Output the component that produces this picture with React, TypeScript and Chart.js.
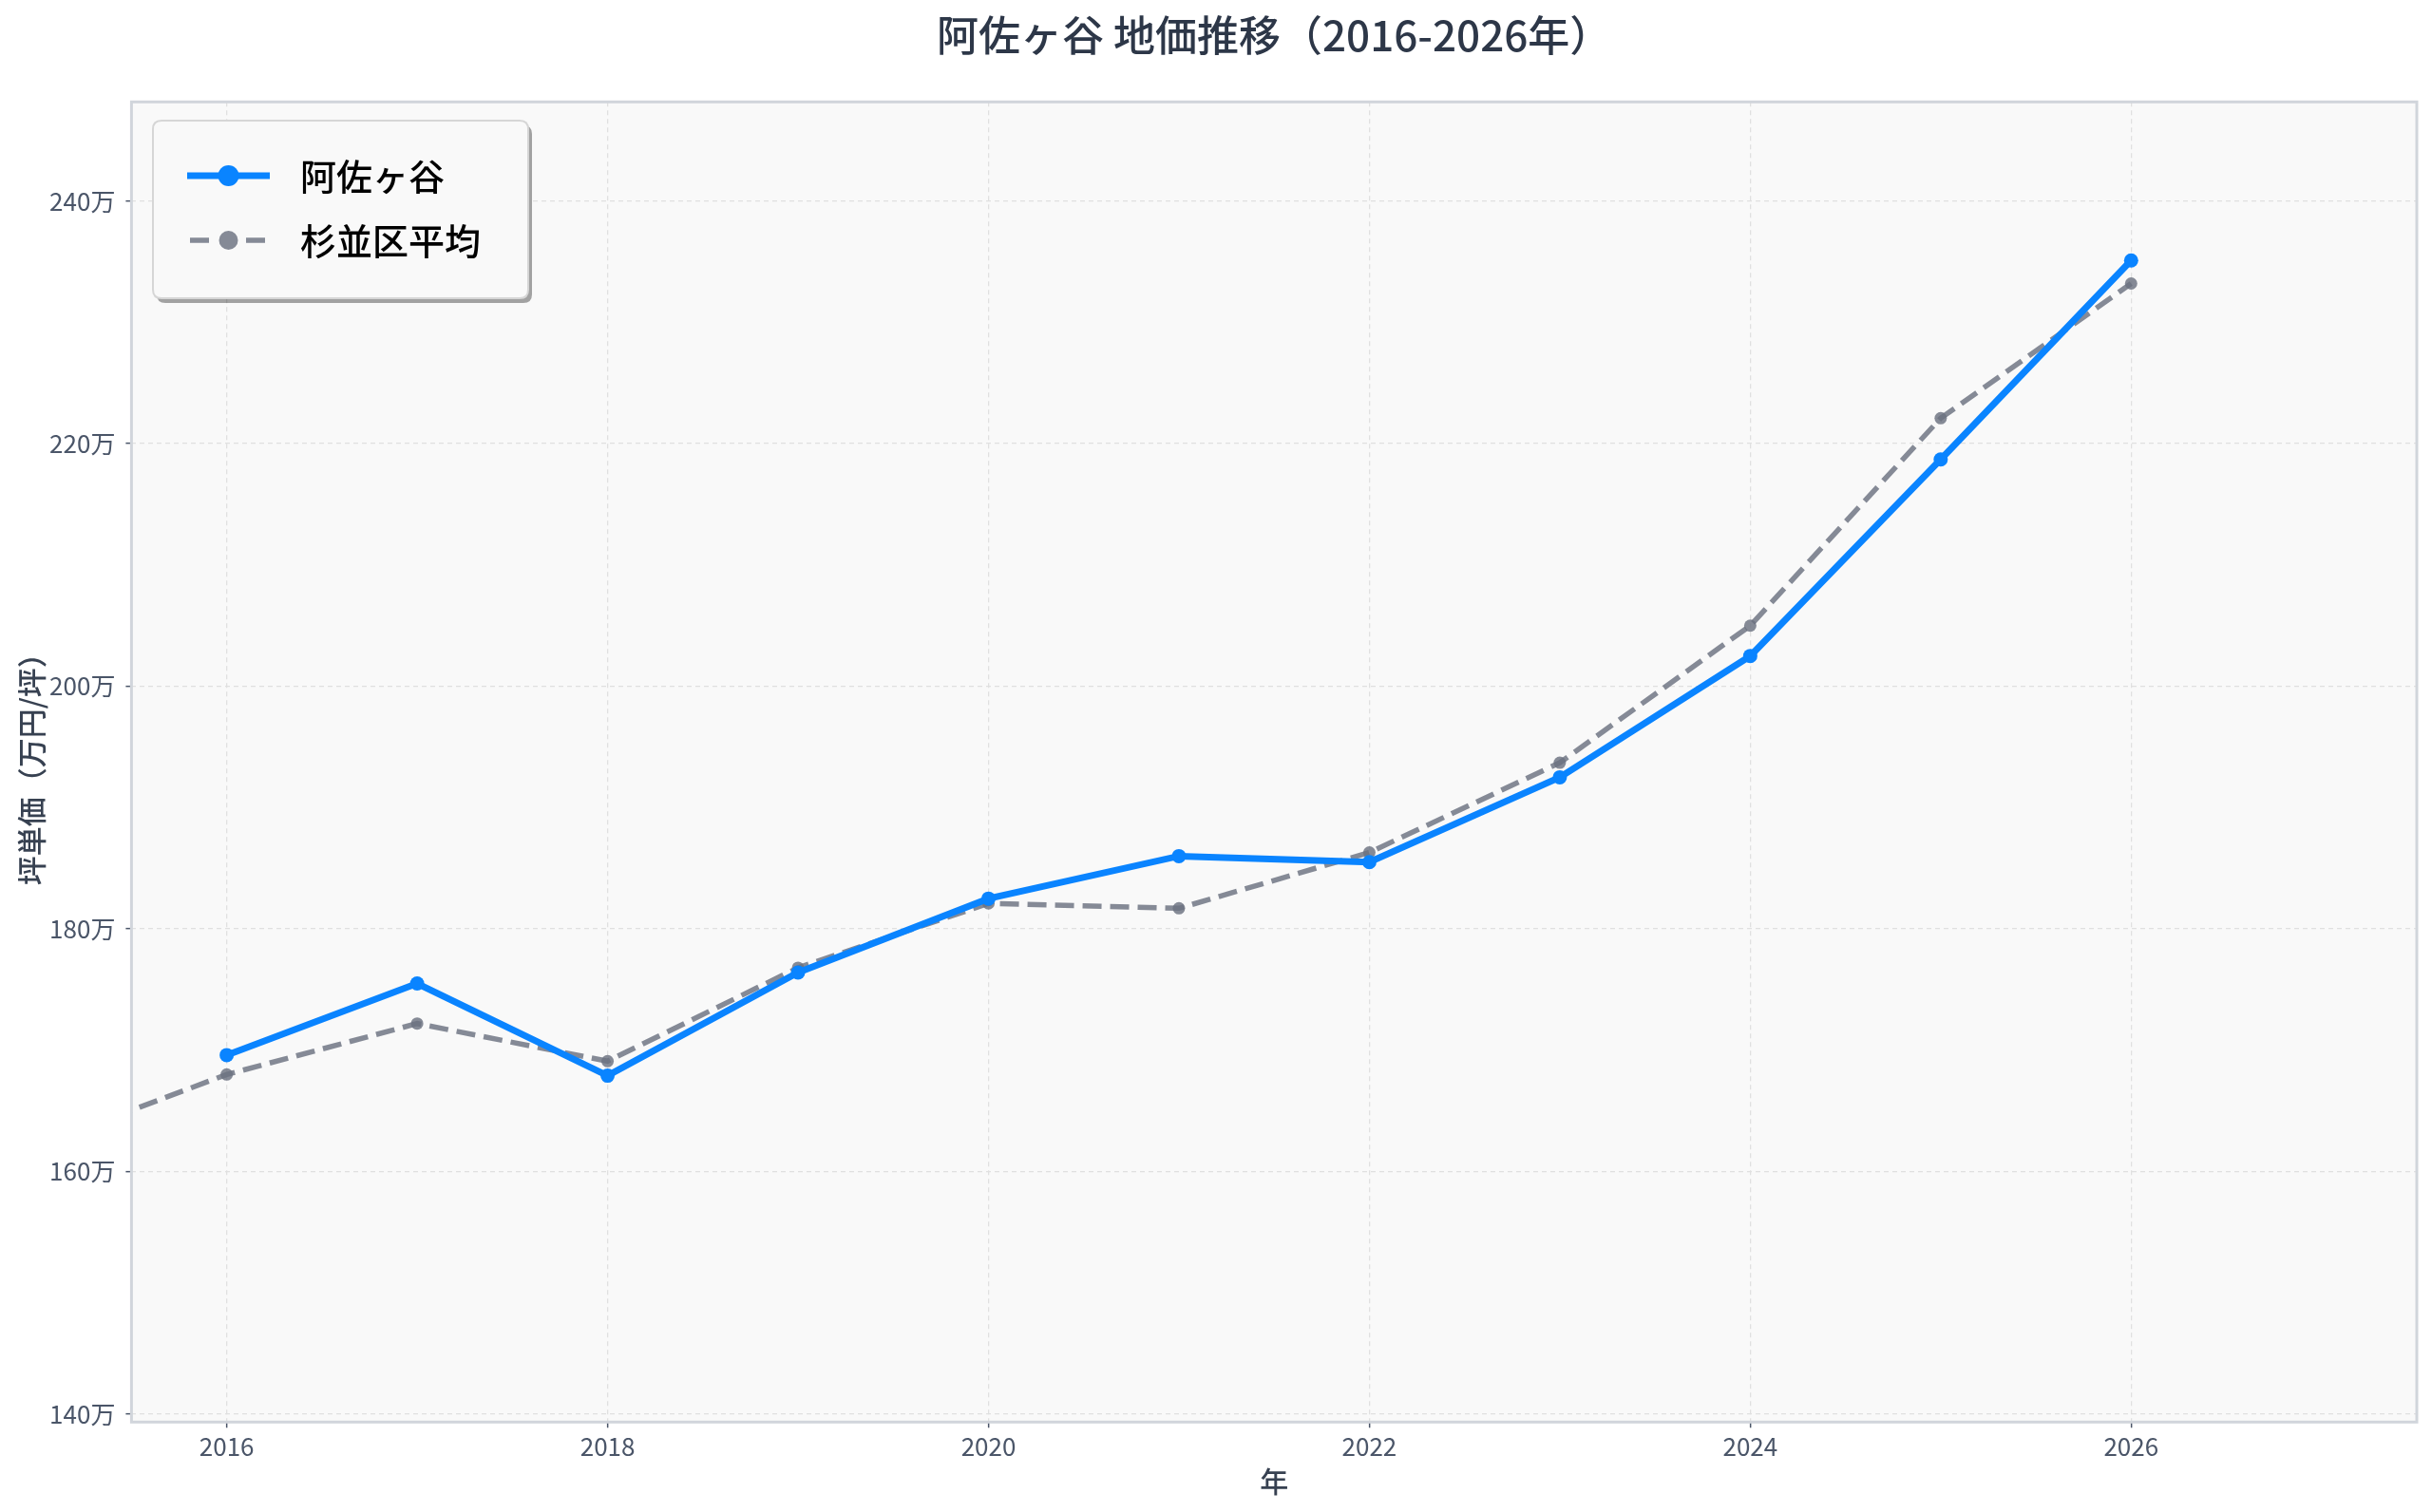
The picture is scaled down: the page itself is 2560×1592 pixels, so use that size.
import React, { useEffect, useRef } from "react";
import { Chart, registerables } from "chart.js";

Chart.register(...registerables);

// ---- data ----
const years = [2015, 2016, 2017, 2018, 2019, 2020, 2021, 2022, 2023, 2024, 2025, 2026];
const asagayaValues = [null, 169.6, 175.5, 167.9, 176.4, 182.5, 186.0, 185.5, 192.5, 202.5, 218.7, 235.1];
const suginamiValues = [162.1, 168.0, 172.2, 169.1, 176.8, 182.1, 181.7, 186.3, 193.7, 205.0, 222.1, 233.2];
const seriesLabels = ["阿佐ヶ谷", "杉並区平均"];
const xTickValues = [2016, 2018, 2020, 2022, 2024, 2026];
const yTickValues = [140, 160, 180, 200, 220, 240];
const xRange = [2015.5, 2027.5];
const yRange = [139.35, 248.17];
const titleText = "阿佐ヶ谷 地価推移（2016-2026年）";
const xAxisTitle = "年";
const yAxisTitle = "坪単価（万円/坪）";
const yTickSuffix = "万";

const FONT = '"Noto Sans CJK JP", "Noto Sans", sans-serif';
const BLUE = "#0a84ff";
const GRAY = "rgba(107,114,128,0.82)";

function roundRect(ctx: CanvasRenderingContext2D, x: number, y: number, w: number, h: number, r: number) {
  ctx.beginPath();
  ctx.moveTo(x + r, y);
  ctx.lineTo(x + w - r, y);
  ctx.quadraticCurveTo(x + w, y, x + w, y + r);
  ctx.lineTo(x + w, y + h - r);
  ctx.quadraticCurveTo(x + w, y + h, x + w - r, y + h);
  ctx.lineTo(x + r, y + h);
  ctx.quadraticCurveTo(x, y + h, x, y + h - r);
  ctx.lineTo(x, y + r);
  ctx.quadraticCurveTo(x, y, x + r, y);
  ctx.closePath();
}

const backgroundPlugin = {
  id: "bgPlugin",
  beforeDraw(chart: any) {
    const { ctx, chartArea } = chart;
    ctx.save();
    ctx.fillStyle = "#ffffff";
    ctx.fillRect(0, 0, chart.width, chart.height);
    ctx.fillStyle = "#f9f9f9";
    ctx.fillRect(chartArea.left, chartArea.top, chartArea.right - chartArea.left, chartArea.bottom - chartArea.top);
    ctx.restore();
  },
  afterDatasetsDraw(chart: any) {
    const { ctx, chartArea } = chart;
    ctx.save();
    ctx.strokeStyle = "#d1d5db";
    ctx.lineWidth = 3;
    ctx.strokeRect(chartArea.left, chartArea.top, chartArea.right - chartArea.left, chartArea.bottom - chartArea.top);
    ctx.restore();
  },
};

const legendTitlePlugin = {
  id: "legendTitlePlugin",
  afterDraw(chart: any) {
    const { ctx, chartArea } = chart;
    // title
    ctx.save();
    ctx.fillStyle = "#2d3748";
    ctx.font = `500 44px ${FONT}`;
    ctx.textAlign = "center";
    ctx.textBaseline = "middle";
    ctx.fillText(titleText, (chartArea.left + chartArea.right) / 2, 37);
    ctx.restore();

    // legend box
    const x0 = 161, y0 = 127, w = 395, h = 187, r = 9;
    ctx.save();
    roundRect(ctx, x0 + 4, y0 + 5, w, h, r);
    ctx.fillStyle = "rgba(0,0,0,0.35)";
    ctx.fill();
    roundRect(ctx, x0, y0, w, h, r);
    ctx.fillStyle = "#f9f9f9";
    ctx.fill();
    ctx.strokeStyle = "#d6d6d6";
    ctx.lineWidth = 2;
    ctx.stroke();

    chart.data.datasets.forEach((ds: any, i: number) => {
      const y = 185 + i * 68;
      ctx.save();
      ctx.strokeStyle = ds.borderColor;
      ctx.lineWidth = ds.borderWidth;
      if (ds.borderDash && ds.borderDash.length) {
        ctx.setLineDash([20, 39]);
        ctx.beginPath();
        ctx.moveTo(200, y);
        ctx.lineTo(280, y);
        ctx.stroke();
      } else {
        ctx.beginPath();
        ctx.moveTo(197, y);
        ctx.lineTo(284, y);
        ctx.stroke();
      }
      ctx.setLineDash([]);
      ctx.beginPath();
      ctx.arc(240.5, y, i === 0 ? 11 : 10, 0, Math.PI * 2);
      ctx.fillStyle = ds.pointBackgroundColor;
      ctx.fill();
      ctx.restore();

      ctx.fillStyle = "#000000";
      ctx.font = `500 38px ${FONT}`;
      ctx.textAlign = "left";
      ctx.textBaseline = "middle";
      ctx.fillText(ds.label, 316, y + 1);
    });
    ctx.restore();
  },
};

export default function App() {
  const canvasRef = useRef<HTMLCanvasElement>(null);

  useEffect(() => {
    const toPoints = (vals: (number | null)[]) =>
      years.map((yr, i) => ({ x: yr, y: vals[i] })).filter((p) => p.y !== null);

    const chart = new Chart(canvasRef.current as HTMLCanvasElement, {
      type: "line",
      data: {
        datasets: [
          {
            label: seriesLabels[0],
            data: toPoints(asagayaValues) as any,
            borderColor: BLUE,
            backgroundColor: BLUE,
            pointBackgroundColor: BLUE,
            pointBorderColor: BLUE,
            borderWidth: 7,
            pointRadius: 7.5,
            pointBorderWidth: 0,
            tension: 0,
            clip: 1,
          },
          {
            label: seriesLabels[1],
            data: toPoints(suginamiValues) as any,
            borderColor: GRAY,
            backgroundColor: GRAY,
            pointBackgroundColor: GRAY,
            pointBorderColor: GRAY,
            borderWidth: 5.5,
            borderDash: [20, 9],
            pointRadius: 6.5,
            pointBorderWidth: 0,
            tension: 0,
            clip: 1,
          },
        ],
      },
      options: {
        animation: false,
        responsive: true,
        maintainAspectRatio: false,
        layout: { padding: { top: 107.3, right: 16, left: 0, bottom: 0 } },
        plugins: {
          legend: { display: false },
          title: { display: false },
          tooltip: { enabled: false },
        },
        scales: {
          x: {
            type: "linear",
            min: xRange[0],
            max: xRange[1],
            afterBuildTicks: (scale: any) => {
              scale.ticks = xTickValues.map((v) => ({ value: v }));
            },
            afterFit: (scale: any) => {
              scale.height = 94.7;
            },
            ticks: {
              color: "#4a5568",
              font: { family: FONT, size: 26 },
              padding: 4,
              maxRotation: 0,
              callback: (v: any) => String(v),
            },
            grid: {
              color: "#e0e0e0",
              lineWidth: 1.3,
              tickColor: "#4a5568",
              tickLength: 6,
              tickWidth: 1.5,
            },
            border: { display: false, dash: [5, 4] },
            title: {
              display: true,
              text: xAxisTitle,
              color: "#374151",
              font: { family: FONT, size: 30, weight: "500" },
              padding: { top: 0, bottom: 14 },
            },
          },
          y: {
            type: "linear",
            min: yRange[0],
            max: yRange[1],
            afterBuildTicks: (scale: any) => {
              scale.ticks = yTickValues.map((v) => ({ value: v }));
            },
            afterFit: (scale: any) => {
              scale.width = 138.4;
            },
            ticks: {
              color: "#4a5568",
              font: { family: FONT, size: 26 },
              padding: 11,
              callback: (v: any) => `${v}${yTickSuffix}`,
            },
            grid: {
              color: "#e0e0e0",
              lineWidth: 1.3,
              tickColor: "#4a5568",
              tickLength: 6,
              tickWidth: 1.5,
            },
            border: { display: false, dash: [5, 4] },
            title: {
              display: true,
              text: yAxisTitle,
              color: "#374151",
              font: { family: FONT, size: 31, weight: "500" },
              padding: { top: 15, bottom: 0 },
            },
          },
        },
      },
      plugins: [backgroundPlugin, legendTitlePlugin],
    } as any);

    return () => chart.destroy();
  }, []);

  return (
    <div style={{ position: "fixed", left: 0, top: 0, width: 2560, height: 1592, background: "#ffffff" }}>
      <canvas ref={canvasRef} />
    </div>
  );
}
